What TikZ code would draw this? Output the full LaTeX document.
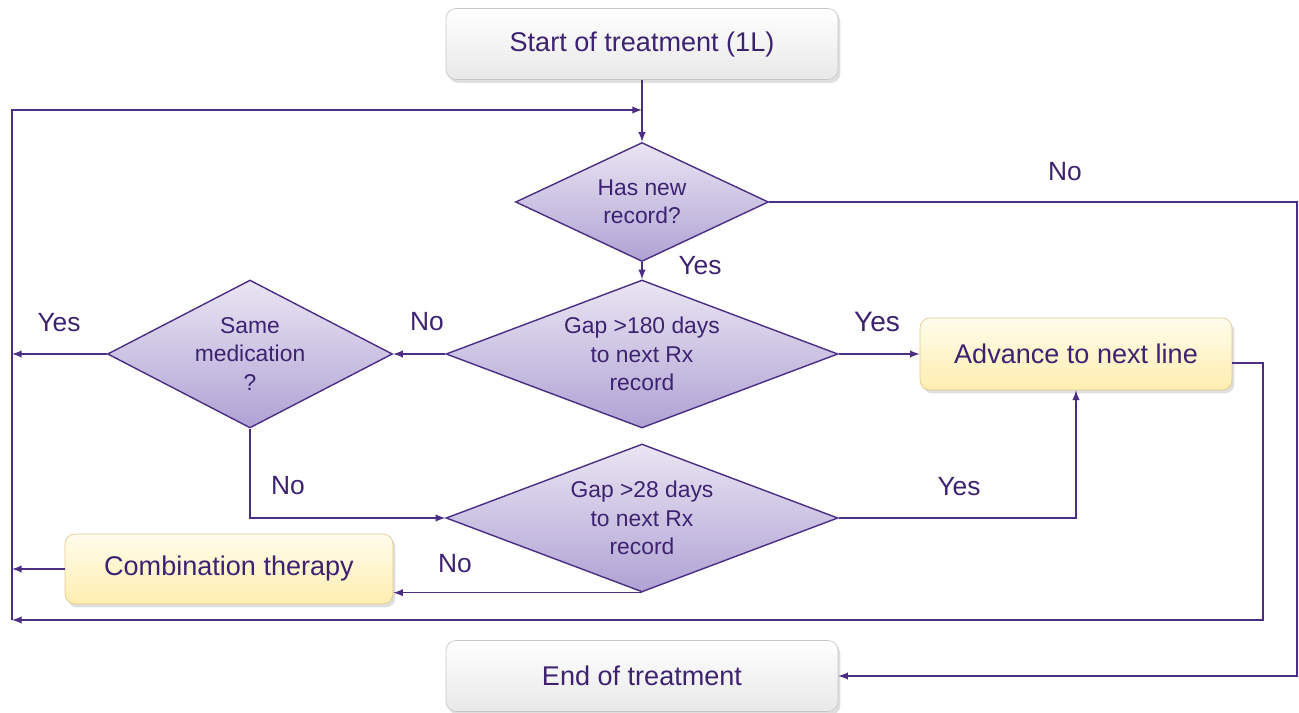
\documentclass[tikz,border=0pt]{standalone}
\usepackage{fontspec}
\setmainfont{Liberation Sans}
\usetikzlibrary{shapes,arrows,shadows}

\definecolor{flowline}{HTML}{4B2D83}
\definecolor{flowtext}{HTML}{3D2270}
\definecolor{decisiontop}{HTML}{EAE5F3}
\definecolor{decisionbottom}{HTML}{B0A2D4}
\definecolor{boxtop}{HTML}{FFFCEB}
\definecolor{boxbottom}{HTML}{FFEEB0}
\definecolor{boxborder}{HTML}{E2C98E}

\begin{document}
\begin{tikzpicture}[x=0.02cm,y=-0.02cm]
		\tikzstyle {flow line} = [draw=flowline, line width=0.9pt]
		\tikzstyle {flow arrow} = [flow line, -latex]
		\tikzstyle {grey box} = [rectangle, rounded corners=0.2cm, draw=black!22, top color=white, bottom color=black!9,
			drop shadow={opacity=0.25, shadow xshift=0.05cm, shadow yshift=-0.07cm},
			text=flowtext, font=\fontsize{15.4}{18}\selectfont, minimum height=1.42cm]
		\tikzstyle {yellow box} = [rectangle, rounded corners=0.2cm, draw=boxborder, top color=boxtop, bottom color=boxbottom,
			drop shadow={opacity=0.25, shadow xshift=0.05cm, shadow yshift=-0.07cm},
			text=flowtext, font=\fontsize{15.4}{18}\selectfont, minimum height=1.44cm]
		\tikzstyle {decision} = [diamond, draw=flowline, line width=0.8pt, top color=decisiontop, bottom color=decisionbottom,
			text=flowtext, align=center, inner sep=0pt, font=\fontsize{13}{16.2}\selectfont]
		\tikzstyle {branch label} = [text=flowtext, font=\fontsize{15}{18}\selectfont]

		\useasboundingbox (0,0) rectangle (1299,713);

		\node[grey box, minimum width=7.84cm] (start) at (642,44) {Start of treatment (1L)};
		\node[decision, aspect=2.13, minimum width=5.06cm, minimum height=2.38cm] (hasnew) at (642,202) {Has new\\record?};
		\node[decision, aspect=2.65, minimum width=7.84cm, minimum height=2.96cm] (gaplong) at (642,354) {Gap >180 days\\to next Rx\\record};
		\node[decision, aspect=1.93, minimum width=5.70cm, minimum height=2.96cm] (samemed) at (250,354) {Same\\medication\\?};
		\node[decision, aspect=2.65, minimum width=7.84cm, minimum height=2.96cm] (gapshort) at (642,518) {Gap >28 days\\to next Rx\\record};
		\node[yellow box, minimum width=6.24cm] (advance) at (1076,354) {Advance to next line};
		\node[yellow box, minimum width=6.56cm, minimum height=1.40cm] (combo) at (229,569) {Combination therapy};
		\node[grey box, minimum width=7.84cm] (finish) at (642,676) {End of treatment};

		\coordinate (looptop) at (12,110);
		\coordinate (loopbottom) at (12,620);
		\coordinate (rightturn) at (1297,676);
		\coordinate (advturn) at (1263,620);

		\draw[flow arrow] (start) -- (hasnew);
		\draw[flow arrow] (loopbottom) -- (looptop) -- (looptop -| start);
		\draw[flow arrow] (hasnew.east) -| (rightturn) -- (finish.east);
		\draw[flow arrow] (hasnew) -- (gaplong);
		\draw[flow arrow] (gaplong) -- (advance);
		\draw[flow arrow] (gaplong) -- (samemed);
		\draw[flow arrow] (samemed.west) -- (samemed.west -| looptop);
		\draw[flow arrow] (samemed.south) |- (gapshort.west);
		\draw[flow arrow] (gapshort.east) -| (advance.south);
		\draw[flow arrow] (gapshort.south) -- (gapshort.south -| combo.east);
		\draw[flow arrow] (combo.west) -- (combo.west -| looptop);
		\draw[flow arrow] ([yshift=-0.18cm]advance.east) -| (advturn) -- (loopbottom);

		\node[branch label] (nohas) at (1065,172) {No};
		\node[branch label] (yeshas) at (700,266) {Yes};
		\node[branch label, font=\fontsize{16}{19}\selectfont] (yeslong) at (877,322) {Yes};
		\node[branch label] (nolong) at (427,322) {No};
		\node[branch label] (yessame) at (59,323) {Yes};
		\node[branch label] (nosame) at (288,486) {No};
		\node[branch label] (yesshort) at (959,487) {Yes};
		\node[branch label] (noshort) at (455,564) {No};
\end{tikzpicture}
\end{document}
